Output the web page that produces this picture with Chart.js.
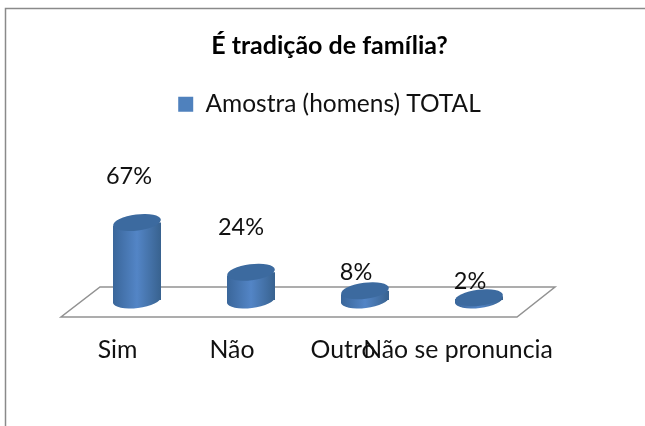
<!DOCTYPE html>
<html><head><meta charset="utf-8">
<style>html,body{margin:0;padding:0;background:#fff}#w{position:relative;width:645px;height:426px}</style>
<script src="https://cdn.jsdelivr.net/npm/chart.js@4"></script>
</head><body><div id="w"><canvas id="c" width="645" height="426"></canvas></div>
<script>
const categories = ['Sim', 'Não', 'Outro', 'Não se pronuncia'];
const seriesName = 'Amostra (homens) TOTAL';
const values = [67, 24, 8, 2];
const titleText = 'É tradição de família?';

const FONT = 'Lato';
const tickShift = [-19.5, -19, -22, -21];
const labelDx = [-8, -10, -9, -9];
const labelLift = [46, 45, 18, 16];
const RY = 8, DY = 3.4, TILT = -7 * Math.PI / 180;

function barGradient(ctx, cx, w) {
  const g = ctx.createLinearGradient(cx - w / 2, 0, cx + w / 2, 0);
  g.addColorStop(0, '#3a669a');
  g.addColorStop(0.5, '#5385c6');
  g.addColorStop(1, '#38628f');
  return g;
}
function ellipse(ctx, x, y, rx, fill) {
  ctx.beginPath();
  ctx.ellipse(x, y, rx, RY, TILT, 0, Math.PI * 2);
  ctx.fillStyle = fill;
  ctx.fill();
}
const cylinder = {
  id: 'cylinder',
  beforeDraw(chart) {
    const ctx = chart.ctx, a = chart.chartArea;
    ctx.save();
    ctx.strokeStyle = '#8a8a8a'; ctx.lineWidth = 1.5;
    ctx.beginPath(); ctx.moveTo(5.5, 426); ctx.lineTo(5.5, 8.5); ctx.lineTo(645, 8.5); ctx.stroke();
    ctx.restore();
    chart.scales.x.getLabelItems(a).forEach((it, i) => {
      if (!it._moved) { it.options.translation[0] += tickShift[i]; it._moved = true; }
    });
  },
  beforeDatasetsDraw(chart) {
    const ctx = chart.ctx, a = chart.chartArea;
    ctx.save();
    ctx.strokeStyle = '#929292'; ctx.lineWidth = 1.5;
    ctx.beginPath();
    ctx.moveTo(a.left - 19, a.bottom + 17);
    ctx.lineTo(a.right - 19, a.bottom + 17);
    ctx.lineTo(a.right + 19, a.bottom - 13);
    ctx.lineTo(a.left + 20, a.bottom - 13);
    ctx.closePath();
    ctx.stroke();
    ctx.restore();
  },
  beforeDatasetDraw(chart, args) {
    const ctx = chart.ctx, meta = args.meta;
    meta.data.forEach(b => {
      const l = b.x - b.width / 2, r = b.x + b.width / 2;
      const g = barGradient(ctx, b.x, b.width);
      ellipse(ctx, b.x, b.base, b.width / 2, g);
      ctx.beginPath();
      ctx.moveTo(l, b.base - 1); ctx.lineTo(l, b.base + DY);
      ctx.lineTo(r, b.base - DY); ctx.lineTo(r, b.base - 1); ctx.closePath();
      ctx.fillStyle = g; ctx.fill();
    });
    ctx.save();
    ctx.beginPath();
    meta.data.forEach(b => {
      const l = b.x - b.width / 2, r = b.x + b.width / 2;
      ctx.moveTo(l, b.y + DY); ctx.lineTo(r, b.y - DY);
      ctx.lineTo(r, b.base + 1); ctx.lineTo(l, b.base + 1); ctx.closePath();
    });
    ctx.clip();
  },
  afterDatasetDraw(chart, args) {
    const ctx = chart.ctx;
    ctx.restore();
    args.meta.data.forEach(b => {
      ellipse(ctx, b.x, b.y, b.width / 2, '#3c6a9f');
    });
  },
  afterDatasetsDraw(chart) {
    const ctx = chart.ctx;
    ctx.save();
    ctx.font = '23.5px ' + FONT;
    ctx.fillStyle = '#111';
    ctx.textAlign = 'center';
    ctx.textBaseline = 'middle';
    chart.getDatasetMeta(0).data.forEach((b, i) => {
      ctx.fillText(values[i] + '%', b.x + labelDx[i], b.y - labelLift[i]);
    });
    ctx.restore();
  }
};

new Chart(document.getElementById('c'), {
  type: 'bar',
  plugins: [cylinder],
  data: {
    labels: categories,
    datasets: [{
      label: seriesName,
      data: values,
      borderWidth: 0,
      backgroundColor(c) {
        if (c.type !== 'data' || !c.chart.chartArea) return '#4f81bd';
        const s = c.chart.scales.x;
        const w = s.getPixelForValue(1) - s.getPixelForValue(0);
        return barGradient(c.chart.ctx, s.getPixelForValue(c.dataIndex), w * 48 / 114);
      },
      categoryPercentage: 1,
      barPercentage: 48 / 114
    }]
  },
  options: {
    responsive: false,
    animation: false,
    layout: { padding: { left: 14, right: 0, top: 0, bottom: 0 } },
    plugins: {
      tooltip: { enabled: false },
      title: {
        display: true, text: titleText, color: '#000',
        font: { family: FONT, size: 25, weight: 'bold' },
        padding: { top: 31, bottom: 23 }
      },
      legend: {
        display: true, position: 'top',
        labels: {
          color: '#111', boxWidth: 15, boxHeight: 15,
          font: { family: FONT, size: 24.5 }, padding: 8,
          generateLabels(chart) {
            return Chart.defaults.plugins.legend.labels.generateLabels(chart)
              .map(l => Object.assign(l, { fillStyle: '#4f81bd', lineWidth: 0 }));
          }
        }
      }
    },
    scales: {
      x: {
        grid: { display: false }, border: { display: false },
        ticks: {
          color: '#111', autoSkip: false, maxRotation: 0, minRotation: 0,
          padding: 27, font: { family: FONT, size: 24.8 }
        },
        afterFit(s) { s.height = 126; }
      },
      y: {
        min: 0, max: 150,
        grid: { display: false }, border: { display: false },
        ticks: { display: false },
        afterFit(s) { s.width = 66; }
      },
      yRight: {
        position: 'right', min: 0, max: 150,
        grid: { display: false }, border: { display: false },
        ticks: { display: false },
        afterFit(s) { s.width = 109; }
      }
    }
  }
});
</script></body></html>
